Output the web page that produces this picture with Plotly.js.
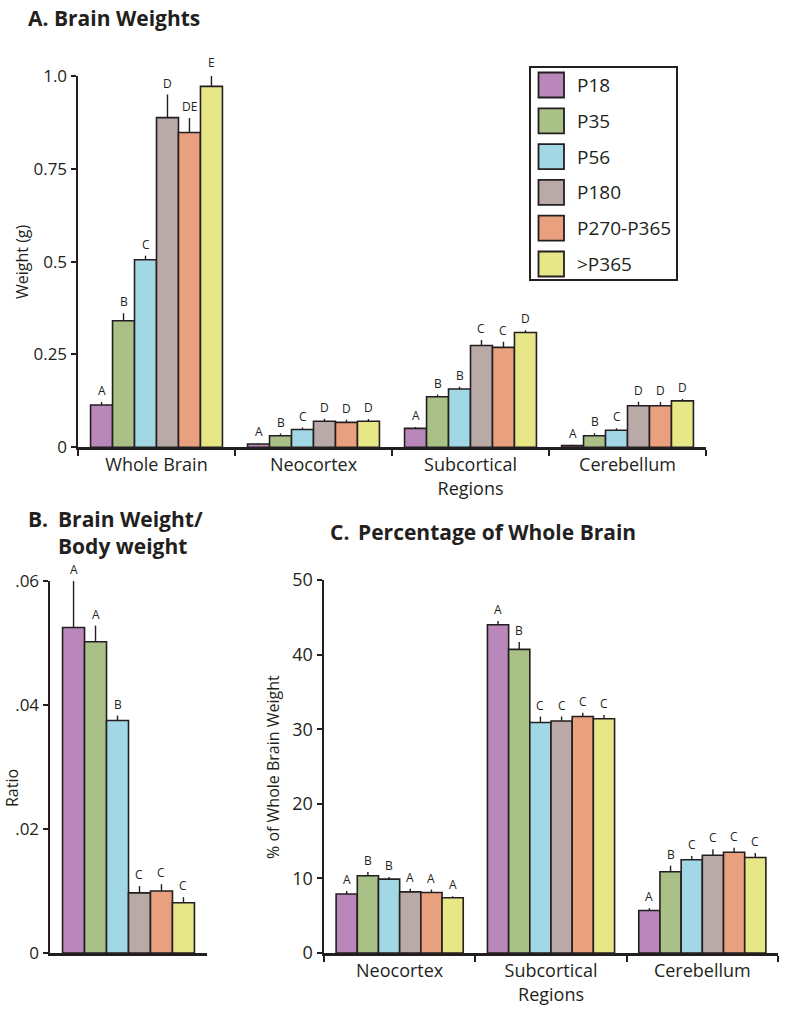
<!DOCTYPE html>
<html><head><meta charset="utf-8">
<script src="https://cdn.plot.ly/plotly-3.0.1.min.js"></script>
<style>body{margin:0;background:#fff;}#chart{width:793px;height:1011px;}</style>
</head><body><div id="chart"></div>
<script>
// ---------- DATA ----------
const groups = ['P18', 'P35', 'P56', 'P180', 'P270-P365', '>P365'];
const colors = ['#b987b9', '#a9c086', '#a2d8e6', '#b9aaa8', '#e9a07f', '#e7e788'];

// Panel A: brain weights (g)
const regionsA = ['Whole Brain', 'Neocortex', 'Subcortical<br>Regions', 'Cerebellum'];
const weightP18   = [0.114, 0.009, 0.051, 0.005];
const weightP35   = [0.341, 0.031, 0.136, 0.031];
const weightP56   = [0.505, 0.048, 0.157, 0.046];
const weightP180  = [0.888, 0.070, 0.274, 0.112];
const weightP270  = [0.848, 0.067, 0.269, 0.112];
const weightP365  = [0.972, 0.070, 0.309, 0.125];
const weightErrP18  = [0.008, 0.002, 0.004, 0.002];
const weightErrP35  = [0.020, 0.006, 0.006, 0.007];
const weightErrP56  = [0.011, 0.005, 0.006, 0.005];
const weightErrP180 = [0.062, 0.007, 0.015, 0.011];
const weightErrP270 = [0.039, 0.007, 0.015, 0.010];
const weightErrP365 = [0.034, 0.006, 0.006, 0.005];
const weightSigP18  = ['A', 'A', 'A', 'A'];
const weightSigP35  = ['B', 'B', 'B', 'B'];
const weightSigP56  = ['C', 'C', 'B', 'C'];
const weightSigP180 = ['D', 'D', 'C', 'D'];
const weightSigP270 = ['DE', 'D', 'C', 'D'];
const weightSigP365 = ['E', 'D', 'D', 'D'];

// Panel B: brain weight / body weight
const ratioCategory = ['Brain/Body'];
const ratioValues = [0.0525, 0.0502, 0.0375, 0.0097, 0.0100, 0.0081];
const ratioErr    = [0.0075, 0.0026, 0.0008, 0.0011, 0.0011, 0.0009];
const ratioSig    = ['A', 'A', 'B', 'C', 'C', 'C'];

// Panel C: percentage of whole brain
const regionsC = ['Neocortex', 'Subcortical<br>Regions', 'Cerebellum'];
const pctP18  = [7.9, 44.0, 5.7];
const pctP35  = [10.35, 40.7, 10.9];
const pctP56  = [9.9, 30.9, 12.5];
const pctP180 = [8.2, 31.1, 13.1];
const pctP270 = [8.1, 31.7, 13.5];
const pctP365 = [7.4, 31.4, 12.8];
const pctErrP18  = [0.4, 0.5, 0.3];
const pctErrP35  = [0.5, 1.0, 0.8];
const pctErrP56  = [0.3, 0.8, 0.5];
const pctErrP180 = [0.4, 0.6, 0.8];
const pctErrP270 = [0.4, 0.5, 0.6];
const pctErrP365 = [0.2, 0.5, 0.6];
const pctSigP18  = ['A', 'A', 'A'];
const pctSigP35  = ['B', 'B', 'B'];
const pctSigP56  = ['B', 'C', 'C'];
const pctSigP180 = ['A', 'C', 'C'];
const pctSigP270 = ['A', 'C', 'C'];
const pctSigP365 = ['A', 'C', 'C'];

const weightRange = [0, 1.0];
const weightTickVals = [0, 0.25, 0.5, 0.75, 1.0];
const weightTickText = ['0', '0.25', '0.5', '0.75', '1.0'];
const ratioRange = [0, 0.06];
const ratioTickVals = [0, 0.02, 0.04, 0.06];
const ratioTickText = ['0', '.02', '.04', '.06'];
const pctRange = [0, 50];
const pctTickVals = [0, 10, 20, 30, 40, 50];

// ---------- BUILD ----------
const W = 793, H = 1011;
const px = x => x / W;
const py = y => 1 - y / H;
const INK = '#231f20';
const FONT = 'Open Sans, Noto Sans, sans-serif';
const BARGAP = 0.16;
const nG = groups.length;

const weightMeans = [weightP18, weightP35, weightP56, weightP180, weightP270, weightP365];
const weightErrs = [weightErrP18, weightErrP35, weightErrP56, weightErrP180, weightErrP270, weightErrP365];
const weightSigs = [weightSigP18, weightSigP35, weightSigP56, weightSigP180, weightSigP270, weightSigP365];
const pctMeans = [pctP18, pctP35, pctP56, pctP180, pctP270, pctP365];
const pctErrs = [pctErrP18, pctErrP35, pctErrP56, pctErrP180, pctErrP270, pctErrP365];
const pctSigs = [pctSigP18, pctSigP35, pctSigP56, pctSigP180, pctSigP270, pctSigP365];

const traces = [];
const annotations = [];

function barTrace(name, i, x, y, err, xa, ya) {
  return {
    type: 'bar', name: name, x: x, y: y, xaxis: xa, yaxis: ya,
    showlegend: false, cliponaxis: false,
    marker: { color: colors[i], line: { color: INK, width: 1.6 } },
    error_y: { type: 'data', array: err, arrayminus: err.map(() => 0), symmetric: false,
               color: INK, thickness: 1.4, width: 0 },
    hoverinfo: 'x+y+name'
  };
}
function offset(i) {
  const gw = 1 - BARGAP;
  return -gw / 2 + (i + 0.5) * gw / nG;
}
// significance letters, placed just above each error bar (y in axis-domain units)
function sigLabels(gi, sigs, means, errs, xref, yDomRef, range) {
  sigs.forEach((s, k) => {
    annotations.push({
      xref: xref, yref: yDomRef, x: k + offset(gi),
      y: (means[k] + errs[k] - range[0]) / (range[1] - range[0]),
      text: s, showarrow: false, yanchor: 'bottom', yshift: 1,
      font: { family: FONT, size: 12, color: INK }
    });
  });
}

groups.forEach((g, i) => {
  traces.push(barTrace(g, i, regionsA, weightMeans[i], weightErrs[i], 'x', 'y'));
  sigLabels(i, weightSigs[i], weightMeans[i], weightErrs[i], 'x', 'y domain', weightRange);
  traces.push(barTrace(g, i, ratioCategory, [ratioValues[i]], [ratioErr[i]], 'x2', 'y2'));
  sigLabels(i, [ratioSig[i]], [ratioValues[i]], [ratioErr[i]], 'x2', 'y2 domain', ratioRange);
  traces.push(barTrace(g, i, regionsC, pctMeans[i], pctErrs[i], 'x3', 'y3'));
  sigLabels(i, pctSigs[i], pctMeans[i], pctErrs[i], 'x3', 'y3 domain', pctRange);
});

// panel titles
const titleFont = { family: FONT, size: 21, color: INK };
function paperText(text, x, y, opts) {
  annotations.push(Object.assign({
    xref: 'paper', yref: 'paper', x: px(x), y: py(y), text: text, showarrow: false,
    xanchor: 'left', yanchor: 'middle', font: titleFont
  }, opts || {}));
}
paperText('<b>A. Brain Weights</b>', 26, 18);
paperText('<b>B.</b>', 26, 519);
paperText('<b>Brain Weight/</b>', 56, 519);
paperText('<b>Body weight</b>', 56, 546);
paperText('<b>C.</b>', 328, 532);
paperText('<b>Percentage of Whole Brain</b>', 356, 532);

// y axis titles
const axTitleFont = { family: FONT, size: 16, color: INK };
paperText('Weight (g)', 22, 262, { xanchor: 'center', textangle: -90, font: axTitleFont });
paperText('Ratio', 12, 788, { xanchor: 'center', textangle: -90, font: axTitleFont });
paperText('% of Whole Brain Weight', 273, 767, { xanchor: 'center', textangle: -90, font: axTitleFont });

// custom legend (large swatches)
const shapes = [{
  type: 'rect', xref: 'paper', yref: 'paper',
  x0: px(530), x1: px(677), y0: py(67), y1: py(280),
  line: { color: INK, width: 2 }, fillcolor: 'rgba(0,0,0,0)'
}];
groups.forEach((g, i) => {
  const top = 72.5 + i * 35.8;
  shapes.push({
    type: 'rect', xref: 'paper', yref: 'paper',
    x0: px(538.5), x1: px(564), y0: py(top), y1: py(top + 25),
    line: { color: INK, width: 1.8 }, fillcolor: colors[i]
  });
  paperText(g, 575, top + 12.5, { font: { family: FONT, size: 19, color: INK } });
});

const yBase = {
  showline: true, linecolor: INK, linewidth: 2.5, ticks: 'outside', ticklen: 5,
  tickwidth: 2, tickcolor: INK, showgrid: false, zeroline: false, fixedrange: true,
  tickfont: { family: FONT, size: 17, color: INK }, tickmode: 'array'
};
const xBase = {
  type: 'category', showline: true, linecolor: INK, linewidth: 2.5,
  ticks: 'outside', tickson: 'boundaries', ticklen: 6, tickwidth: 2, tickcolor: INK,
  showgrid: false, zeroline: false, fixedrange: true,
  tickfont: { family: FONT, size: 18, color: INK }
};

const layout = {
  width: W, height: H,
  margin: { l: 0, r: 0, t: 0, b: 0 },
  paper_bgcolor: '#fff', plot_bgcolor: 'rgba(0,0,0,0)',
  barmode: 'group', bargap: BARGAP, bargroupgap: 0,
  showlegend: false,
  font: { family: FONT, color: INK },
  xaxis: Object.assign({}, xBase, { domain: [px(78), px(706)], anchor: 'y' }),
  yaxis: Object.assign({}, yBase, { domain: [py(447.3), py(76)], anchor: 'x', range: weightRange,
           tickvals: weightTickVals, ticktext: weightTickText }),
  xaxis2: Object.assign({}, xBase, { domain: [px(50), px(207)], anchor: 'y2', ticks: '', showticklabels: false }),
  yaxis2: Object.assign({}, yBase, { domain: [py(953), py(581)], anchor: 'x2', range: ratioRange,
           tickvals: ratioTickVals, ticktext: ratioTickText }),
  xaxis3: Object.assign({}, xBase, { domain: [px(324), px(778)], anchor: 'y3' }),
  yaxis3: Object.assign({}, yBase, { domain: [py(953), py(580)], anchor: 'x3', range: pctRange,
           tickvals: pctTickVals, ticktext: pctTickVals.map(String), tickfont: { family: FONT, size: 18, color: INK } }),
  annotations: annotations,
  shapes: shapes
};

Plotly.newPlot('chart', traces, layout, { staticPlot: true, displayModeBar: false });
</script>
</body></html>
